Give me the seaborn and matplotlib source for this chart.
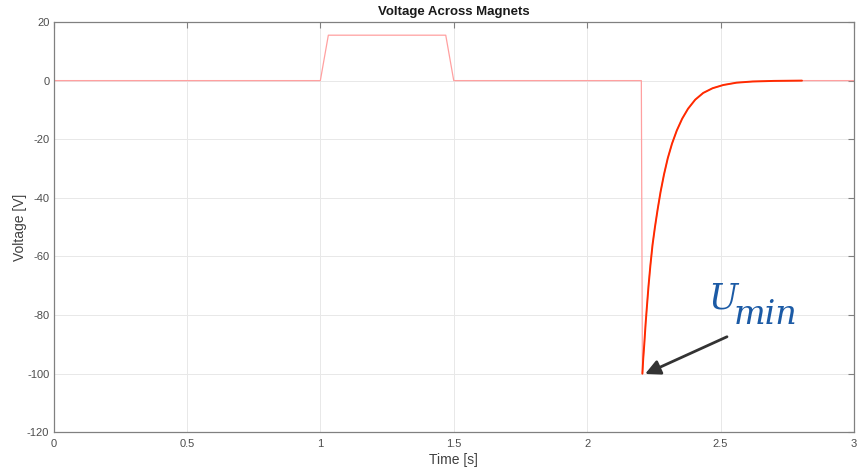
import numpy as np
import pandas as pd
import matplotlib
matplotlib.use("Agg")
import matplotlib.pyplot as plt
import seaborn as sns

# ---- data ----
base_t = [0.0, 1.000, 1.030, 1.470, 1.500, 2.203]
base_v = [0.0, 0.0, 15.5, 15.5, 0.0, 0.0]

decay_t = [2.207, 2.210, 2.214, 2.219, 2.224, 2.230, 2.237, 2.245, 2.254,
           2.264, 2.275, 2.288, 2.302, 2.318, 2.336, 2.356, 2.378, 2.405,
           2.435, 2.470, 2.510, 2.560, 2.620, 2.700, 2.805]
decay_v = [-100.0, -95.0, -90.0, -83.0, -77.0, -70.0, -63.0, -56.0, -50.0,
           -44.0, -38.0, -32.0, -26.5, -21.5, -17.0, -13.0, -9.6, -6.5,
           -4.2, -2.6, -1.5, -0.7, -0.3, -0.1, 0.0]

tail_t = [3.0]
tail_v = [0.0]

title = "Voltage Across Magnets"
xlabel = "Time [s]"
ylabel = "Voltage [V]"
xticks = [0, 0.5, 1, 1.5, 2, 2.5, 3]
yticks = [-120, -100, -80, -60, -40, -20, 0, 20]

signal = pd.DataFrame({"t": base_t + decay_t + tail_t,
                       "v": base_v + decay_v + tail_v})
decay = pd.DataFrame({"t": decay_t, "v": decay_v})

sns.set_style("white")
plt.rcParams['font.family'] = ['Liberation Sans', 'DejaVu Sans']

fig = plt.figure(figsize=(8.61, 4.67), dpi=100)
ax = fig.add_axes([53.5 / 861, 1 - 432.3 / 467, (854 - 53.5) / 861, (432.3 - 22) / 467])

sns.lineplot(data=signal, x="t", y="v", ax=ax, color="#ffa0a0", lw=0.9,
             estimator=None, sort=False)
sns.lineplot(data=decay, x="t", y="v", ax=ax, color="#ff2a00", lw=1.4,
             estimator=None, sort=False)

ax.set_xlim(0, 3)
ax.set_ylim(-120, 20)
ax.set_xticks(xticks)
ax.set_xticklabels([f"{x:g}" for x in xticks])
ax.set_yticks(yticks)
ax.set_yticklabels([f"{y:g}" for y in yticks])
ax.grid(True, color="#e8e8e8", lw=0.7)
ax.set_axisbelow(True)
for s in ax.spines.values():
    s.set_visible(True)
    s.set_color("#808080")
    s.set_linewidth(0.9)
ax.tick_params(direction="in", length=4, width=0.8, color="#808080",
               top=True, right=True, labelsize=8, labelcolor="#4d4d4d", pad=3)
ax.tick_params(axis="x", pad=5)

ax.set_title(title, fontsize=9.5, fontweight="bold", color="#1a1a1a", pad=5)
ax.set_xlabel(xlabel, fontsize=10, color="#404040", labelpad=3)
ax.set_ylabel(ylabel, fontsize=10, color="#404040", labelpad=0)

# annotation U_min
ax.annotate("", xy=(2.217, -100.1), xytext=(2.524, -87.4),
            arrowprops=dict(arrowstyle="-|>,head_length=0.9,head_width=0.45",
                            color="#333333", lw=2.0, shrinkA=0, shrinkB=0))
ax.text(2.455, -77.9, "U", fontsize=25, fontstyle="italic",
        family="DejaVu Serif", color="#1b5aa5", ha="left", va="baseline")
ax.text(2.548, -83.2, "min", fontsize=24, fontstyle="italic",
        family="DejaVu Serif", color="#1b5aa5", ha="left", va="baseline")

fig.savefig("out.png", dpi=100)
